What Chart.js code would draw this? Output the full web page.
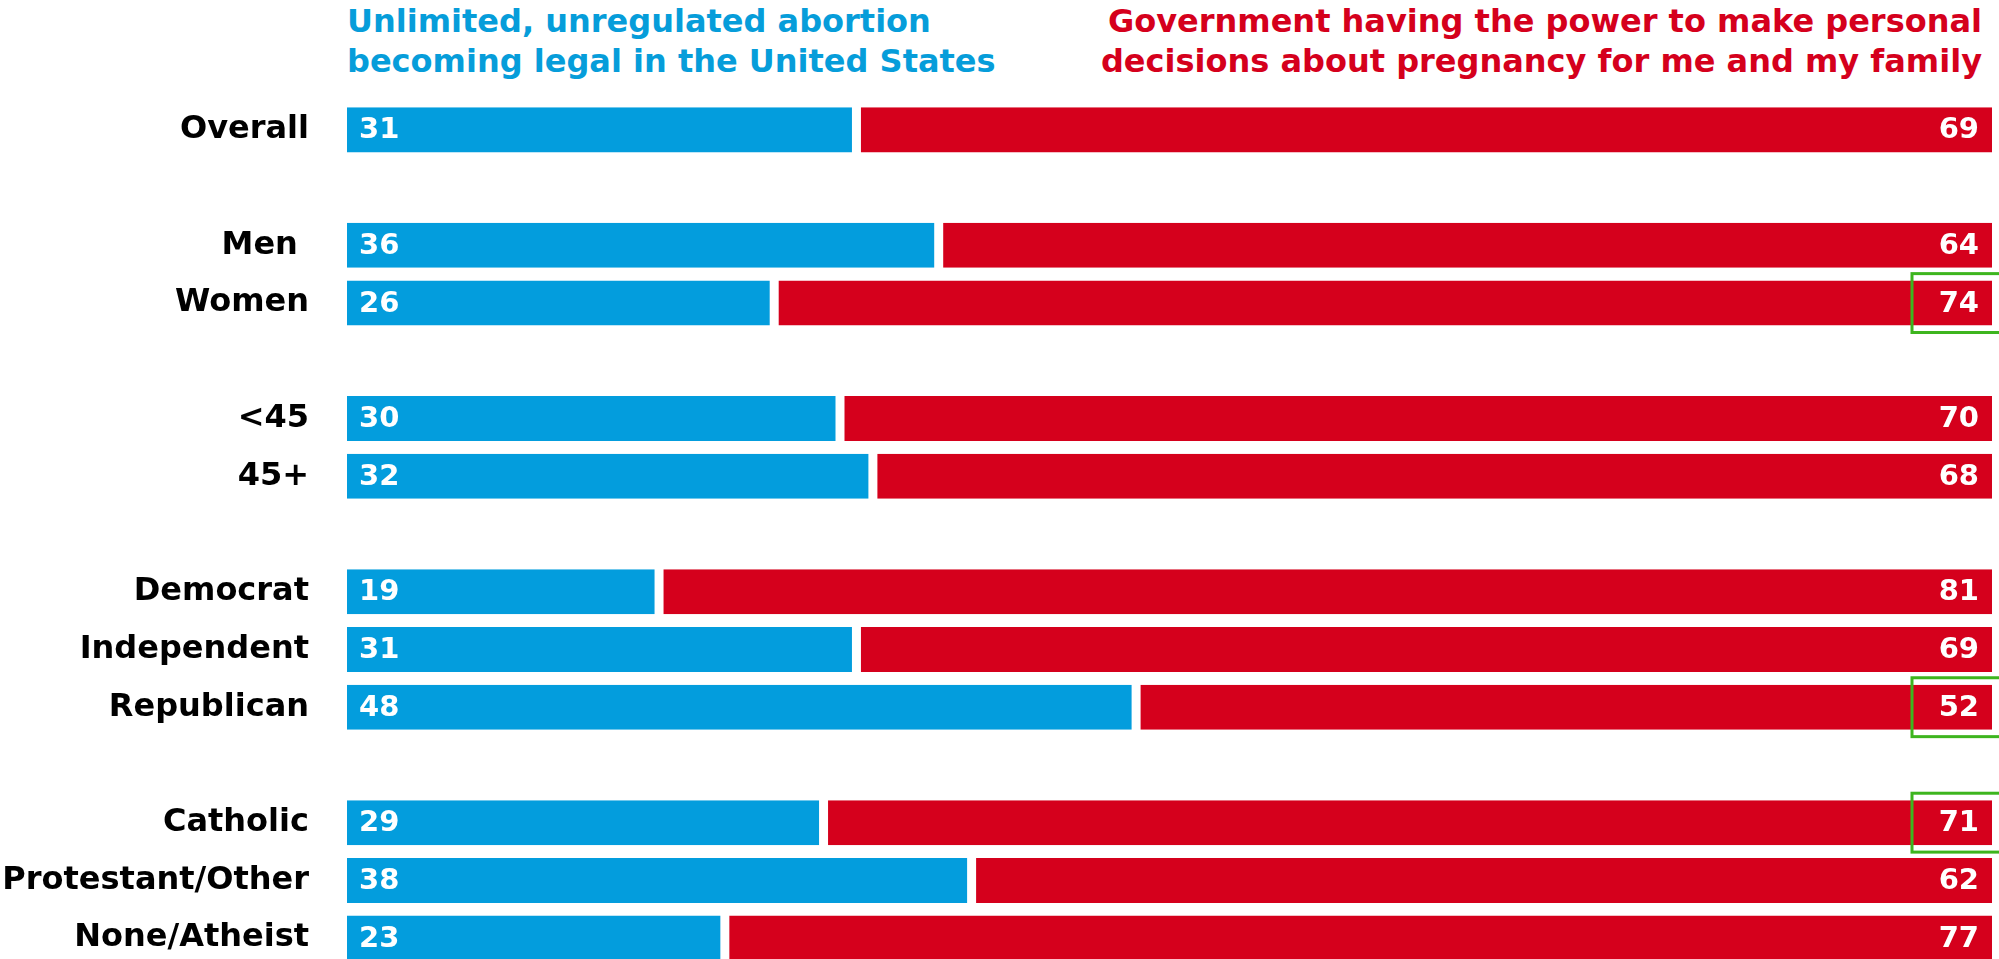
<!DOCTYPE html>
<html>
<head>
<meta charset="utf-8">
<script src="https://cdn.jsdelivr.net/npm/chart.js@4"></script>
<style>
  html, body { margin: 0; padding: 0; background: #fff; overflow: hidden; }
  body { width: 1999px; height: 959px; position: relative; font-family: 'DejaVu Sans', sans-serif; }
  .head { position: absolute; top: 1px; font-weight: 700; font-size: 32px; line-height: 40px; white-space: nowrap; }
  #headLeft { left: 347px; color: #069dda; }
  #headRight { right: 17px; color: #d5001c; text-align: right; }
  #wrap { position: absolute; left: 0; top: 0; width: 1999px; height: 967px; }
</style>
</head>
<body>
<div class="head" id="headLeft">Unlimited, unregulated abortion<br>becoming legal in the United States</div>
<div class="head" id="headRight">Government having the power to make personal<br>decisions about pregnancy for me and my family</div>
<div id="wrap"><canvas id="chart"></canvas></div>
<script>
// empty strings are the gaps between groups
const categories = ['Overall', '', 'Men ', 'Women', '', '<45', '45+', '', 'Democrat', 'Independent', 'Republican', '', 'Catholic', 'Protestant/Other', 'None/Atheist'];
const unlimitedAbortion = [31, null, 36, 26, null, 30, 32, null, 19, 31, 48, null, 29, 38, 23];
const governmentPower = [69, null, 64, 74, null, 70, 68, null, 81, 69, 52, null, 71, 62, 77];
const highlighted = ['Women', 'Republican', 'Catholic'];

const BLUE = '#039ddd';
const RED = '#d5001c';
const FONT = "'DejaVu Sans'";

// white numbers inside the bars
const valueLabels = {
    id: 'valueLabels',
    afterDatasetsDraw(chart) {
        const ctx = chart.ctx;
        ctx.save();
        ctx.font = '700 29px ' + FONT;
        ctx.fillStyle = '#fff';
        ctx.textBaseline = 'middle';
        chart.data.datasets.forEach((ds, i) => {
            chart.getDatasetMeta(i).data.forEach((bar, j) => {
                const v = ds.data[j];
                if (v == null) return;
                if (i === 0) {
                    ctx.textAlign = 'left';
                    ctx.fillText(v, bar.base + 12, bar.y + 1);
                } else {
                    ctx.textAlign = 'right';
                    ctx.fillText(v, bar.x - 13, bar.y + 1);
                }
            });
        });
        ctx.restore();
    }
};

// green outline boxes around some of the red values
const highlightBoxes = {
    id: 'highlightBoxes',
    afterDraw(chart) {
        const { ctx, scales: { x, y } } = chart;
        const step = y.getPixelForValue(1) - y.getPixelForValue(0);
        ctx.save();
        ctx.strokeStyle = '#3db51e';
        ctx.lineWidth = 3;
        highlighted.forEach(name => {
            const idx = categories.indexOf(name);
            const cy = y.getPixelForValue(idx);
            const left = x.getPixelForValue(100) - 80;
            const h = step * 1.02;
            ctx.strokeRect(left, cy - h / 2, chart.width + 20 - left, h);
        });
        ctx.restore();
    }
};

const ctx = document.getElementById('chart').getContext('2d');
new Chart(ctx, {
    type: 'bar',
    data: {
        labels: categories,
        datasets: [{
            label: 'Unlimited, unregulated abortion becoming legal in the United States',
            data: unlimitedAbortion,
            backgroundColor: BLUE,
            borderColor: '#fff',
            borderWidth: { right: 5 },
            borderSkipped: false
        }, {
            label: 'Government having the power to make personal decisions about pregnancy for me and my family',
            data: governmentPower,
            backgroundColor: RED,
            borderColor: '#fff',
            borderWidth: { left: 4 },
            borderSkipped: false
        }]
    },
    options: {
        indexAxis: 'y',
        responsive: true,
        maintainAspectRatio: false,
        animation: false,
        datasets: { bar: { barPercentage: 0.78, categoryPercentage: 1 } },
        layout: { padding: { top: 101, right: 7, bottom: 0, left: 0 } },
        plugins: {
            legend: { display: false },
            tooltip: { enabled: false }
        },
        scales: {
            x: { stacked: true, min: 0, max: 100, display: false },
            y: {
                stacked: true,
                grid: { display: false, drawTicks: false },
                border: { display: false },
                ticks: {
                    color: '#000',
                    padding: 38,
                    autoSkip: false,
                    font: { family: FONT, weight: '700', size: 32 }
                },
                afterFit(scale) {
                    // fixed gutter for the labels, no extra top/bottom padding
                    scale.width = 347;
                    scale.paddingTop = 0;
                    scale.paddingBottom = 0;
                }
            }
        }
    },
    plugins: [valueLabels, highlightBoxes]
});
</script>
</body>
</html>
